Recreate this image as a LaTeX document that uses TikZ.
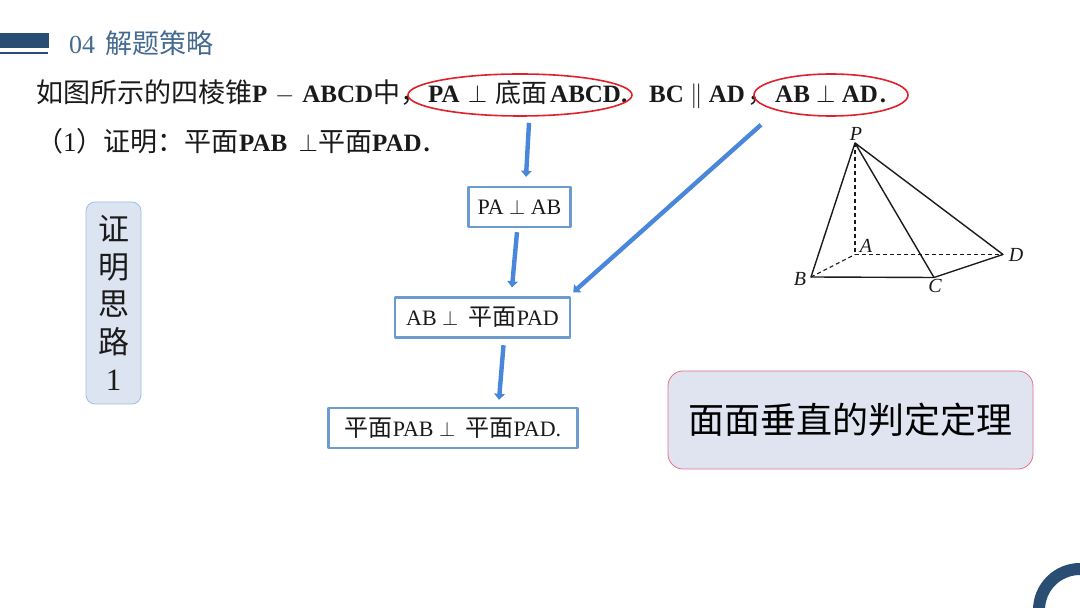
\documentclass[tikz,border=0pt]{standalone}
\usepackage{fontspec}
\setmainfont{Liberation Serif}
\newfontfamily\cjk{Noto Sans CJK SC}
\newcommand{\boxzh}[1]{{\fontsize{24}{28}\selectfont\cjk #1}}
\usetikzlibrary{arrows.meta,shapes.geometric}
\definecolor{navybar}{HTML}{2A4D74}
\definecolor{navytext}{HTML}{456A8F}
\definecolor{flowblue}{HTML}{4A86DA}
\definecolor{boxblue}{HTML}{6C9BCF}
\definecolor{ringred}{HTML}{E0202A}
\definecolor{sidefill}{HTML}{DCE3F1}
\definecolor{sideline}{HTML}{9CC3E5}
\definecolor{rulefill}{HTML}{E0E3F0}
\definecolor{ruleline}{HTML}{E4708A}
\definecolor{inktext}{HTML}{1A1A1A}
\tikzset{
	linetext/.style={anchor=base west,inner sep=0pt,text=inktext,font=\fontsize{27}{30}\selectfont},
	latinbold/.style={linetext,font=\fontsize{25}{30}\selectfont\bfseries},
	flowbox/.style={draw=boxblue,line width=2.4pt,inner sep=0pt,text=inktext,font=\fontsize{22}{28}\selectfont},
	flowarrow/.style={-{Triangle[width=10.5pt,length=6pt]},draw=flowblue,fill=flowblue,line width=4.4pt,line cap=butt},
	goalring/.style={draw=ringred,line width=1.6pt,ellipse,inner sep=0pt,minimum width=224pt,minimum height=42pt},
	pointlabel/.style={inner sep=0pt,text=inktext,font=\fontsize{20}{22}\selectfont\itshape}
}
\begin{document}
\begin{tikzpicture}[line cap=round,line join=round,x=1pt,y=1pt]
	\clip(0,0) rectangle (1080,608);
	% header
	\fill[navybar] (0,560) rectangle (49,574.5);
	\fill[navybar] (0,554) rectangle (48,556);
	\node[anchor=base west,inner sep=0pt,text=navytext,font=\fontsize{26}{30}\selectfont] (headnum) at (69,554.5) {04};
	\node[anchor=base west,inner sep=0pt,text=navytext,font=\fontsize{27}{30}\selectfont\cjk] (headtext) at (105,554) {解题策略};
	% problem text
	\node[linetext] (lineA) at (36,505.5) {\cjk 如图所示的四棱锥};
	\node[latinbold] (lineB) at (252,505.5) {P\hspace{1.5pt} $-$\hspace{1.5pt} ABCD};
	\node[linetext] (lineC) at (373,505.5) {\cjk 中，};
	\node[latinbold] (lineD) at (428,505.5) {PA\hspace{2pt} $\perp$};
	\node[linetext,font=\fontsize{26}{30}\selectfont] (lineE) at (495,505.5) {\cjk 底面};
	\node[latinbold] (lineF) at (550,505.5) {ABCD.};
	\node[latinbold] (lineG) at (649,505.5) {BC $\parallel$ AD};
	\node[linetext] (lineH) at (747,505.5) {\cjk ，};
	\node[latinbold] (lineI) at (775,505.5) {AB $\perp$ AD\hspace{2pt}.};
	\node[linetext] (lineJ) at (36,456) {\cjk （\rmfamily 1\cjk ）证明：平面};
	\node[latinbold] (lineK) at (239,456) {PAB\hspace{5pt} $\perp$};
	\node[linetext] (lineL) at (318,456) {\cjk 平面};
	\node[latinbold] (lineM) at (372,456) {PAD\hspace{2pt}.};
	% goal rings
	\node[goalring] (ringPA) at (520,513) {};
	\node[goalring,minimum width=154pt] (ringAB) at (831,513) {};
	% flow
	\node[flowbox,minimum width=102pt,minimum height=40pt] (boxPA) at (519.5,401) {PA $\perp$ AB};
	\node[flowbox,minimum width=175pt,minimum height=40pt] (boxAB) at (482.5,290.5) {AB $\perp$\hspace{5pt} \boxzh{平面}PAD};
	\node[flowbox,minimum width=249pt,minimum height=40pt] (boxPlane) at (453,180) {\boxzh{平面}PAB $\perp$\hspace{5pt} \boxzh{平面}PAD.};
	\draw[flowarrow] ([xshift=9pt,yshift=-6pt]ringPA.south) -- ([xshift=6.5pt,yshift=9pt]boxPA.north);
	\draw[flowarrow] ([xshift=-2.5pt,yshift=-4pt]boxPA.south) -- ([xshift=29.5pt,yshift=9pt]boxAB.north);
	\draw[flowarrow] ([xshift=21pt,yshift=-6.5pt]boxAB.south) -- ([xshift=46pt,yshift=7pt]boxPlane.north);
	\draw[flowarrow] ([xshift=-70pt,yshift=-8pt]ringAB.south) -- ([xshift=2pt,yshift=4pt]boxAB.north east);
	% side box and theorem box
	\node[draw=sideline,fill=sidefill,line width=0.8pt,rounded corners=9pt,minimum width=55pt,minimum height=202pt,inner sep=0pt,align=center,text=inktext,font=\fontsize{31}{37.5}\selectfont\cjk] (sideBox) at (113.5,305) {证\\明\\思\\路\\\rmfamily 1};
	\node[draw=ruleline,fill=rulefill,line width=0.8pt,rounded corners=15pt,minimum width=365pt,minimum height=98pt,inner sep=0pt,text=black,font=\fontsize{36}{40}\selectfont\cjk] (ruleBox) at (850.5,188) {面面垂直的判定定理};
	% pyramid
	\coordinate (P) at (855,465);
	\coordinate (A) at (855,353.5);
	\coordinate (B) at (811,331);
	\coordinate (C) at (934,330.5);
	\coordinate (D) at (1003,353.5);
	\draw[line width=1.4pt,color=inktext] (B)-- (P)-- (D)-- (C)-- (P);
	\draw[line width=1.4pt,color=inktext] (B)-- (C);
	\draw[line width=1.1pt,color=inktext,dash pattern=on 4pt off 3pt,line cap=butt] (P)-- (A);
	\draw[line width=1.1pt,color=inktext,dash pattern=on 4pt off 3pt,line cap=butt] (B)-- (A);
	\draw[line width=1.1pt,color=inktext,dash pattern=on 4pt off 3pt,line cap=butt] (A)-- (D);
	\node[pointlabel] (labelP) at (856,474) {P};
	\node[pointlabel] (labelA) at (866,362) {A};
	\node[pointlabel] (labelB) at (800,329) {B};
	\node[pointlabel] (labelC) at (935,322) {C};
	\node[pointlabel] (labelD) at (1016,353) {D};
	% corner ring
	\draw[navybar,line width=12pt] (1080,-2) circle (41pt);
\end{tikzpicture}
\end{document}
